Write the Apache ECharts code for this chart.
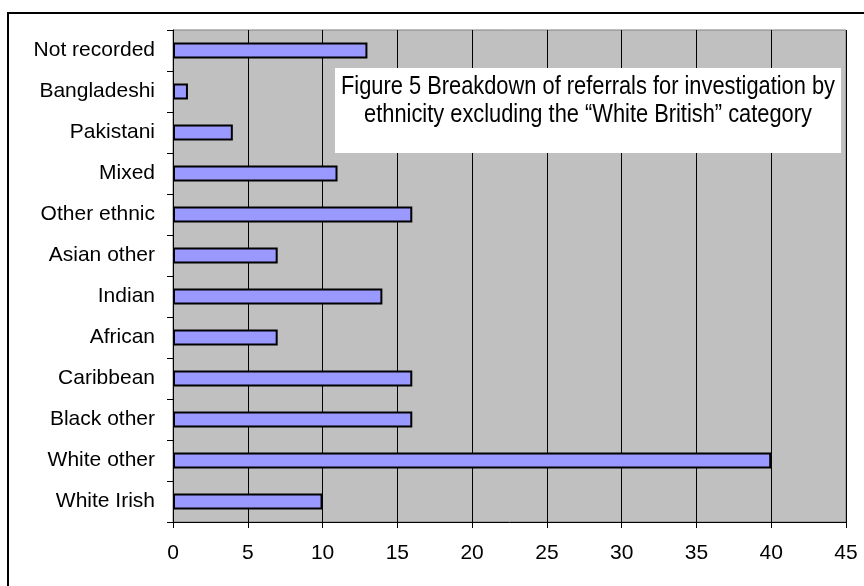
<!DOCTYPE html>
<html>
<head>
<meta charset="utf-8">
<script src="https://cdn.jsdelivr.net/npm/echarts@6/dist/echarts.min.js"></script>
<style>
  html, body { margin: 0; padding: 0; background: #fff; }
  #chart { width: 864px; height: 586px; }
</style>
</head>
<body>
<div id="chart"></div>
<script>
// Ethnic groups, listed bottom to top as they appear on the axis
const categories = [
  'White Irish', 'White other', 'Black other', 'Caribbean', 'African', 'Indian',
  'Asian other', 'Other ethnic', 'Mixed', 'Pakistani', 'Bangladeshi', 'Not recorded'
];
// Number of referrals for each group
const referrals = [10, 40, 16, 16, 7, 14, 7, 16, 11, 4, 1, 13];
// Value axis settings
const axisMin = 0;
const axisMax = 45;
const axisStep = 5;

const titleLines = [
  'Figure 5 Breakdown of referrals for investigation by',
  'ethnicity excluding the \u201cWhite British\u201d category'
];

const chart = echarts.init(document.getElementById('chart'), null, { renderer: 'canvas' });

const labelFont = '"Liberation Sans", Arial, sans-serif';

// caption text is drawn horizontally compressed to get a narrow face
function captionLine(text, y) {
  return {
    type: 'text',
    x: 588, y: y,
    scaleX: 0.84,
    style: {
      text: text, fill: '#000',
      font: '26px ' + labelFont,
      align: 'center', verticalAlign: 'middle'
    },
    z: 101
  };
}

chart.setOption({
  animation: false,
  backgroundColor: '#ffffff',
  grid: {
    left: 173, right: 18, top: 30, bottom: 64,
    show: true,
    backgroundColor: '#C0C0C0',
    borderColor: '#808080',
    borderWidth: 1
  },
  xAxis: {
    type: 'value',
    min: axisMin,
    max: axisMax,
    interval: axisStep,
    axisLine: { show: true, onZero: false, lineStyle: { color: '#000', width: 1 } },
    axisTick: { show: true, length: 6, lineStyle: { color: '#000' } },
    axisLabel: { color: '#000', fontSize: 21, fontFamily: labelFont, margin: 21 },
    splitLine: { show: true, lineStyle: { color: '#000', width: 1 } }
  },
  yAxis: {
    type: 'category',
    data: categories,
    axisLine: { show: true, lineStyle: { color: '#000', width: 1 } },
    axisTick: { show: true, length: 6, alignWithLabel: false, lineStyle: { color: '#000' } },
    axisLabel: { color: '#000', fontSize: 21, fontFamily: labelFont, margin: 18 },
    splitLine: { show: false }
  },
  series: [{
    type: 'bar',
    data: referrals,
    barWidth: 16,
    itemStyle: {
      color: '#9999FF',
      borderColor: '#000',
      borderWidth: 2
    }
  }],
  graphic: [
    // outer frame (top and left edges)
    {
      type: 'polyline',
      shape: { points: [[8, 586], [8, 13], [864, 13]] },
      style: { stroke: '#000', lineWidth: 2, fill: null },
      silent: true
    },
    // caption box inside the plot
    {
      type: 'rect',
      shape: { x: 335, y: 68, width: 506, height: 85 },
      style: { fill: '#fff' },
      z: 100
    },
    captionLine(titleLines[0], 87),
    captionLine(titleLines[1], 115)
  ]
});
</script>
</body>
</html>
